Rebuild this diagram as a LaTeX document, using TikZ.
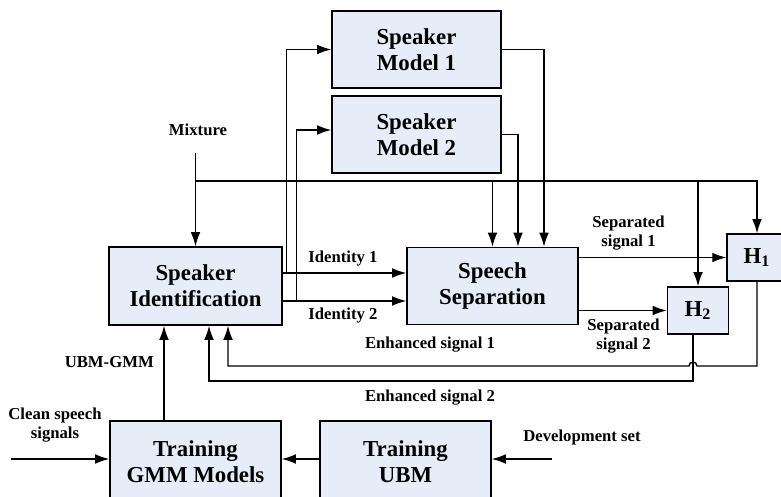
\documentclass[tikz,border=0pt]{standalone}
\usepackage{fontspec}
\setmainfont{Liberation Serif}
\usetikzlibrary{arrows.meta,calc}
\definecolor{boxfill}{RGB}{230,236,248}

\begin{document}
\begin{tikzpicture}[
  block/.style={draw, fill=boxfill, line width=0.8pt, align=center, inner sep=0pt,
    font=\fontsize{13}{14.8}\selectfont\bfseries,
    minimum width=3.42cm, minimum height=1.54cm},
  hbox/.style={block, minimum width=1.22cm, minimum height=0.94cm},
  lbl/.style={font=\fontsize{9.5}{10.5}\selectfont\bfseries, align=center},
  wire/.style={line width=0.8pt},
  sig/.style={wire, -{Latex[length=8pt,width=5.5pt]}}]
  \useasboundingbox (0,0) rectangle (15.62,-9.94);

  % blocks
  \node[block, minimum width=3.38cm] (sm1) at (8.33,-0.99) {Speaker\\Model 1};
  \node[block, minimum width=3.38cm] (sm2) at (8.33,-2.69) {Speaker\\Model 2};
  \node[block, minimum width=3.46cm, minimum height=1.56cm] (si) at (3.91,-5.72) {Speaker\\Identification};
  \node[block] (ss) at (9.85,-5.72) {Speech\\Separation};
  \node[hbox, minimum width=1.2cm] (h1) at (15.14,-5.15) {H\textsubscript{1}};
  \node[hbox] (h2) at (13.96,-6.21) {H\textsubscript{2}};
  \node[block, minimum height=1.64cm] (gmm) at (3.91,-9.24) {Training\\GMM Models};
  \node[block, minimum height=1.64cm] (ubm) at (8.11,-9.24) {Training\\UBM};

  % labels
  \node[lbl] (mix) at (3.96,-2.6) {Mixture};
  \node[lbl] (id1) at (6.86,-5.18) {Identity 1};
  \node[lbl] (id2) at (6.86,-6.32) {Identity 2};
  \node[lbl] (sep1) at (12.57,-4.66) {Separated\\signal 1};
  \node[lbl] (sep2) at (12.47,-6.72) {Separated\\signal 2};
  \node[lbl] (enh1) at (8.6,-6.9) {Enhanced signal 1};
  \node[lbl] (enh2) at (8.6,-7.96) {Enhanced signal 2};
  \node[lbl, anchor=east] (ubmgmm) at (3.2,-7.24) {UBM-GMM};
  \node[lbl] (clean) at (1.1,-8.5) {Clean speech\\signals};
  \node[lbl] (dev) at (11.64,-8.74) {Development set};

  \coordinate (mixin) at (3.91,-3.06);
  \coordinate (tap) at (3.91,-3.62);
  \coordinate (cleanin) at (0.22,-9.18);
  \coordinate (devin) at (11.04,-9.18);
  \coordinate (e1) at (0,-7.32);
  \coordinate (e2) at (0,-7.62);
  \coordinate (h2out) at ([xshift=-0.1cm]h2.south);

  % mixture feeds
  \draw[sig] (mixin) -- (si.north);
  \draw[sig] (tap) -| (h1.north);
  \draw[sig] (tap -| ss.north) -- (ss.north);
  \draw[sig] (tap -| h2.north) -- (h2.north);

  % identities
  \draw[sig] ([yshift=0.26cm]si.east) -- ([yshift=0.26cm]ss.west);
  \draw[sig] ([yshift=-0.30cm]si.east) -- ([yshift=-0.30cm]ss.west);
  \draw[sig] ([shift={(0.08,0.26)}]si.east) |- (sm1.west);
  \draw[sig] ([shift={(0.28,-0.30)}]si.east) |- ([yshift=0.09cm]sm2.west);
  \draw[sig] (sm1.east) -| ([xshift=1.03cm]ss.north);
  \draw[sig] (sm2.east) -| ([xshift=0.51cm]ss.north);

  % separated signals
  \draw[sig] (ss.east |- h1.west) -- (h1.west);
  \draw[sig] (ss.east |- h2.west) -- (h2.west);

  % enhanced signals back
  \draw[sig] (h1.south) |- ($(h2out |- e1)+(0.08,0)$)
    arc[start angle=0, end angle=180, radius=0.08cm]
    -- ([xshift=0.65cm]si.south |- e1) -- ([xshift=0.65cm]si.south);
  \draw[sig] (h2out) |- ([xshift=0.27cm]si.south |- e2) -- ([xshift=0.27cm]si.south);

  % training
  \draw[sig] ([xshift=-0.63cm]gmm.north) -- ([xshift=-0.63cm]si.south);
  \draw[sig] ([yshift=0.06cm]ubm.west) -- ([yshift=0.06cm]gmm.east);
  \draw[sig] (cleanin) -- (cleanin -| gmm.west);
  \draw[sig] (devin) -- (devin -| ubm.east);
\end{tikzpicture}
\end{document}
